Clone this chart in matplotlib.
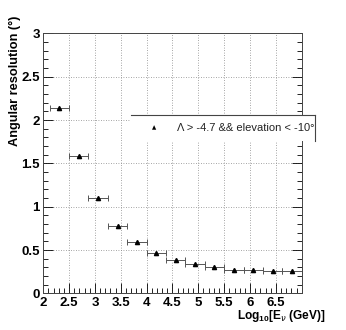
import matplotlib.pyplot as plt
from matplotlib.ticker import MultipleLocator

plt.rcParams['font.family'] = ['Liberation Sans', 'DejaVu Sans']
plt.rcParams['mathtext.fontset'] = 'custom'
plt.rcParams['mathtext.rm'] = 'Liberation Sans'
plt.rcParams['mathtext.bf'] = 'Liberation Sans:bold'

# bin centres in log10(E/GeV), half bin width, resolution in degrees
log_e = [2.3125, 2.6875, 3.0625, 3.4375, 3.8125, 4.1875, 4.5625,
         4.9375, 5.3125, 5.6875, 6.0625, 6.4375, 6.8125]
half_width = [0.1875] * 13
resolution = [2.14, 1.59, 1.10, 0.78, 0.59, 0.465, 0.39,
              0.335, 0.30, 0.27, 0.265, 0.262, 0.255]
x_ticks = [2, 2.5, 3, 3.5, 4, 4.5, 5, 5.5, 6, 6.5]
y_ticks = [0, 0.5, 1, 1.5, 2, 2.5, 3]

fig = plt.figure(figsize=(3.46, 3.30), dpi=100)
ax = fig.add_axes([0.125, 0.111, 0.747, 0.788])

ax.errorbar(log_e, resolution, xerr=half_width, fmt='^', color='black',
            ms=3, elinewidth=0.7, ecolor='#555555', capsize=2, capthick=0.7)

ax.set_xlim(2, 7)
ax.set_ylim(0, 3)
ax.set_xticks(x_ticks)
ax.set_xticklabels([('%g' % t) for t in x_ticks])
ax.set_yticks(y_ticks)
ax.set_yticklabels([('%g' % t) for t in y_ticks])
ax.xaxis.set_minor_locator(MultipleLocator(0.1))
ax.yaxis.set_minor_locator(MultipleLocator(0.1))
ax.tick_params(which='both', direction='in', right=True, top=False, width=0.6,
               labelsize=9.5)
ax.tick_params(which='major', length=7, pad=2.5)
ax.tick_params(which='minor', length=3.5)
for lbl in ax.get_xticklabels() + ax.get_yticklabels():
    lbl.set_fontweight('bold')
ax.grid(True, which='major', linestyle=(0, (1, 2)), color='#888888', linewidth=0.6)
for s in ax.spines.values():
    s.set_linewidth(0.7)
    s.set_color('#444444')

ax.set_xlabel(r'Log$_{\mathbf{10}}$[E$_{\nu}$ (GeV)]', fontsize=8.6, fontweight='bold',
              ha='right', va='center')
ax.xaxis.set_label_coords((326-43.3)/258.5, -(316-293.3)/260)
ax.set_ylabel('Angular resolution (\u00b0)', fontsize=9.2, fontweight='bold',
              ha='right', va='center')
ax.yaxis.set_label_coords(-(43.3-15)/258.5, (293.3-16)/260)

# legend box drawn ROOT-style: top and right edges only
fig.add_artist(plt.Line2D([131/346, 315/346], [1-115/330, 1-115/330],
                          color='#444444', lw=0.8, transform=fig.transFigure))
fig.add_artist(plt.Line2D([315/346, 315/346], [1-115/330, 1-141/330],
                          color='#444444', lw=0.8, transform=fig.transFigure))
fig.patches.append(plt.Rectangle((131/346, 1-141/330), 184/346, 26/330,
                                 transform=fig.transFigure, facecolor='white',
                                 edgecolor='none', zorder=1))
fig.text(154/346, 1-128/330, '\u25b2', fontsize=4, ha='center', va='center',
         family='DejaVu Sans')
fig.text(177/346, 1-128/330, '\u039b > -4.7 && elevation < -10\u00b0',
         fontsize=8, ha='left', va='center', color='#222222')

fig.savefig('out.png', dpi=100)
